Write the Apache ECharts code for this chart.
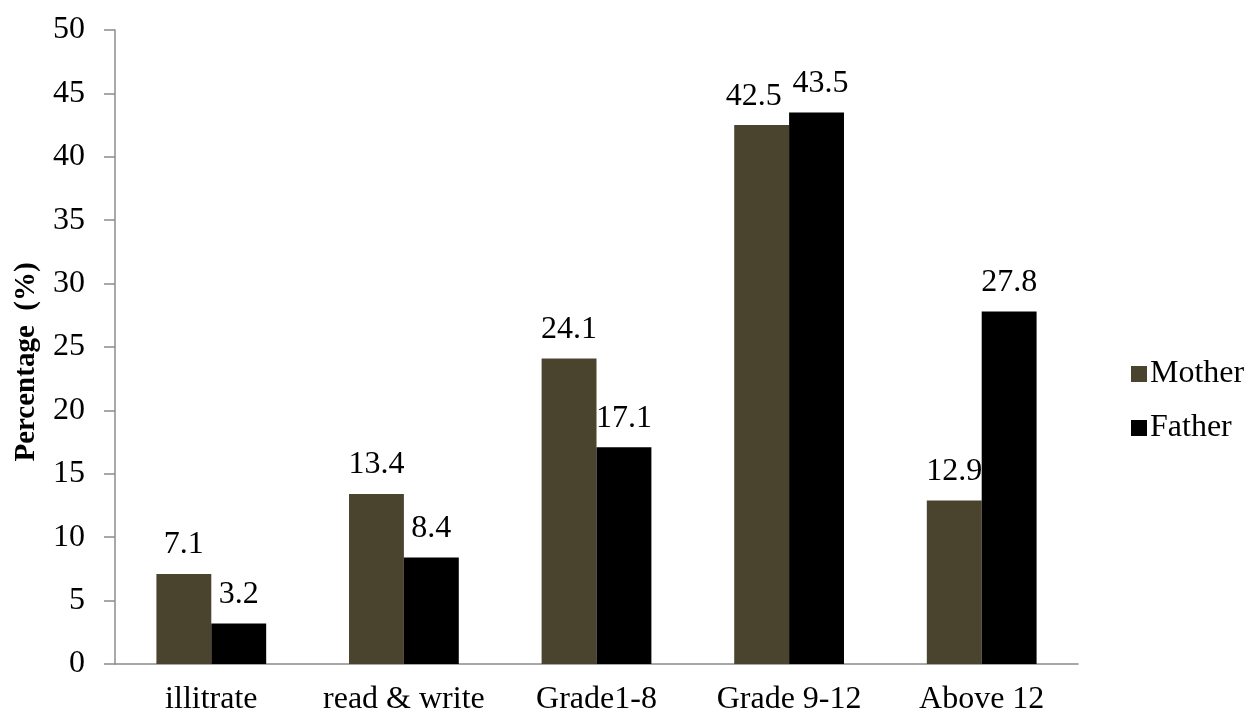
<!DOCTYPE html>
<html>
<head>
<meta charset="utf-8">
<script src="https://cdn.jsdelivr.net/npm/echarts@6/dist/echarts.min.js"></script>
<style>
  html, body { margin: 0; padding: 0; background: #fff; }
  #chart { width: 1249px; height: 713px; }
</style>
</head>
<body>
<div id="chart"></div>
<script>
// Parents' education level, percentage of respondents
const categories = ['illitrate', 'read & write', 'Grade1-8', 'Grade 9-12', 'Above 12'];
const motherValues = [7.1, 13.4, 24.1, 42.5, 12.9];
const fatherValues = [3.2, 8.4, 17.1, 43.5, 27.8];
const seriesNames = ['Mother', 'Father'];

const FONT = '"Liberation Serif", "Times New Roman", serif';
const AXIS_GREY = '#8c8c8c';
const FS = 32;

const chart = echarts.init(document.getElementById('chart'));

const labelStyle = {
  show: true,
  position: 'top',
  distance: 13,
  fontFamily: FONT,
  fontSize: FS,
  color: '#000'
};

// Nudge the two adjacent labels in the tallest group apart so they don't touch
function withLabelNudge(values, idx, dx) {
  return values.map((v, i) => i === idx ? { value: v, label: { offset: [dx, 0] } } : v);
}

chart.setOption({
  animation: false,
  textStyle: { fontFamily: FONT },
  grid: { left: 115, right: 171, top: 30, bottom: 49, outerBoundsMode: 'none', containLabel: false },
  legend: {
    orient: 'vertical',
    left: 1126,
    top: 353,
    itemWidth: 16,
    itemHeight: 16,
    itemGap: 22,
    icon: 'rect',
    textStyle: { fontFamily: FONT, fontSize: FS, color: '#000', padding: [0, 0, 0, -2] },
    data: seriesNames
  },
  xAxis: {
    type: 'category',
    data: categories,
    axisLine: { lineStyle: { color: AXIS_GREY, width: 1.5 } },
    axisTick: { show: false },
    axisLabel: { interval: 0, fontFamily: FONT, fontSize: FS, color: '#000', margin: 20 }
  },
  yAxis: {
    type: 'value',
    min: 0,
    max: 50,
    interval: 5,
    name: 'Percentage  (%)',
    nameLocation: 'middle',
    nameGap: 74,
    nameTextStyle: { fontFamily: FONT, fontSize: 29, fontWeight: 'bold', color: '#000', padding: [0, 30, 0, 0] },
    axisLine: { show: true, lineStyle: { color: AXIS_GREY, width: 1.5 } },
    axisTick: { show: true, length: 11, lineStyle: { color: AXIS_GREY, width: 1.5 } },
    splitLine: { show: false },
    axisLabel: { fontFamily: FONT, fontSize: FS, color: '#000', margin: 30 }
  },
  series: [
    {
      name: seriesNames[0],
      type: 'bar',
      data: withLabelNudge(motherValues, 3, -8),
      barGap: '0%',
      barCategoryGap: '43%',
      itemStyle: { color: '#4a432e' },
      label: labelStyle
    },
    {
      name: seriesNames[1],
      type: 'bar',
      data: withLabelNudge(fatherValues, 3, 4),
      barGap: '0%',
      barCategoryGap: '43%',
      itemStyle: { color: '#000000' },
      label: labelStyle
    }
  ]
});
</script>
</body>
</html>
